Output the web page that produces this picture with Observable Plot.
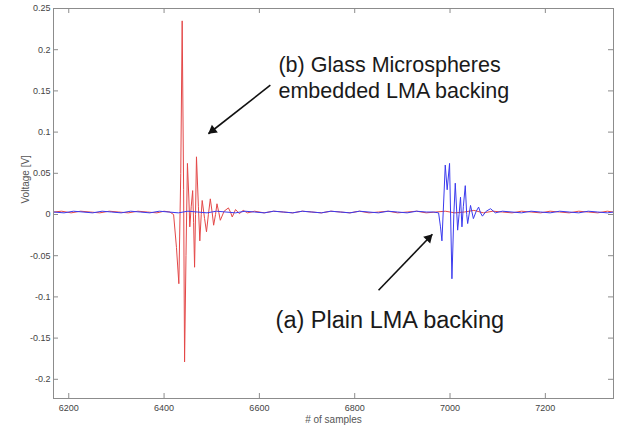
<!DOCTYPE html>
<html><head><meta charset="utf-8">
<script src="https://cdn.jsdelivr.net/npm/d3@7"></script>
<script src="https://cdn.jsdelivr.net/npm/@observablehq/plot@0.6"></script>
<style>body{margin:0;background:#fff;}</style>
</head><body><div id="chart"></div>
<script>
// ---- data ----
const xTicks = [6200, 6400, 6600, 6800, 7000, 7200];
const yTicks = [0.25, 0.2, 0.15, 0.1, 0.05, 0, -0.05, -0.1, -0.15, -0.2];

// (b) Glass microspheres embedded LMA backing (red)
const redSamples = [6168, 6185, 6205, 6225, 6245, 6265, 6285, 6305, 6325, 6345, 6365, 6385, 6400, 6412, 6420, 6426, 6431, 6435, 6438, 6441, 6443, 6446, 6449, 6452, 6454, 6457, 6460, 6462, 6464, 6466, 6468, 6472, 6475, 6478, 6480, 6485, 6489, 6493, 6497, 6501, 6504, 6508, 6511, 6515, 6518, 6526, 6535, 6540, 6543, 6550, 6558, 6566, 6575, 6590, 6610, 6630, 6650, 6670, 6690, 6710, 6730, 6750, 6770, 6790, 6810, 6830, 6850, 6870, 6890, 6910, 6930, 6950, 6970, 6990, 7010, 7030, 7050, 7070, 7090, 7110, 7130, 7150, 7170, 7190, 7210, 7230, 7250, 7270, 7290, 7310, 7330, 7343];
const redVolts = [0.003, 0.004, 0.002, 0.004, 0.003, 0.002, 0.004, 0.003, 0.002, 0.004, 0.003, 0.002, 0.004, 0.003, 0.000, -0.040, -0.084, 0.050, 0.235, 0.030, -0.179, -0.050, 0.062, 0.020, -0.015, 0.010, 0.029, -0.010, -0.064, 0.000, 0.070, 0.010, -0.032, 0.000, 0.017, -0.005, -0.021, 0.000, 0.019, 0.002, -0.013, 0.000, 0.013, 0.002, -0.007, 0.004, 0.008, 0.002, -0.003, 0.006, 0.001, 0.005, 0.002, 0.004, 0.002, 0.004, 0.003, 0.002, 0.004, 0.003, 0.002, 0.004, 0.003, 0.002, 0.004, 0.002, 0.003, 0.004, 0.002, 0.003, 0.004, 0.002, 0.003, 0.004, 0.002, 0.003, 0.005, 0.002, 0.004, 0.003, 0.002, 0.004, 0.003, 0.002, 0.004, 0.003, 0.002, 0.004, 0.003, 0.002, 0.004, 0.003];

// (a) Plain LMA backing (blue)
const blueSamples = [6168, 6190, 6210, 6230, 6250, 6270, 6290, 6310, 6330, 6350, 6370, 6390, 6410, 6430, 6450, 6470, 6490, 6510, 6530, 6550, 6570, 6590, 6610, 6630, 6650, 6670, 6690, 6710, 6730, 6750, 6770, 6790, 6810, 6830, 6850, 6870, 6890, 6910, 6930, 6950, 6965, 6976, 6980, 6983, 6987, 6990, 6994, 6999, 7004, 7008, 7011, 7016, 7019, 7022, 7025, 7028, 7032, 7035, 7037, 7043, 7049, 7055, 7060, 7064, 7068, 7076, 7085, 7095, 7110, 7130, 7150, 7170, 7190, 7210, 7230, 7250, 7270, 7290, 7310, 7330, 7343];
const blueVolts = [0.003, 0.002, 0.004, 0.003, 0.002, 0.004, 0.003, 0.002, 0.004, 0.003, 0.002, 0.004, 0.003, 0.002, 0.004, 0.003, 0.002, 0.004, 0.003, 0.002, 0.004, 0.003, 0.002, 0.004, 0.003, 0.002, 0.004, 0.003, 0.002, 0.004, 0.003, 0.002, 0.004, 0.003, 0.002, 0.004, 0.003, 0.002, 0.004, 0.003, 0.003, 0.002, -0.015, -0.032, 0.020, 0.060, 0.030, 0.062, -0.078, 0.000, 0.038, -0.019, 0.000, 0.021, -0.015, 0.010, 0.035, 0.000, -0.011, 0.011, -0.005, 0.004, 0.009, 0.002, -0.002, 0.004, 0.007, 0.002, 0.004, 0.003, 0.002, 0.004, 0.003, 0.002, 0.004, 0.003, 0.002, 0.004, 0.003, 0.002, 0.003];

const annLabels = ["(b) Glass Microspheres\nembedded LMA backing", "(a) Plain LMA backing"];
const annX = [6640, 6634];
const annY = [0.195, -0.117];

const arrowFromX = [6623, 6850];
const arrowFromY = [0.157, -0.092];
const arrowToX = [6493, 6963];
const arrowToY = [0.098, -0.024];

// ---- build ----
const xDomain = [6168, 7343], yDomain = [-0.2233, 0.25];
const W = 618, H = 429, mL = 53, mR = 5, mT = 8, mB = 31;
const plotH = H - mT - mB, plotW = W - mL - mR, tk = 5;
const kx = plotW / (xDomain[1] - xDomain[0]);
const ky = plotH / (yDomain[1] - yDomain[0]);
const frameColor = "#8c8c8c";

const red = redSamples.map((s, i) => ({s, v: redVolts[i]}));
const blue = blueSamples.map((s, i) => ({s, v: blueVolts[i]}));
const ann = annLabels.map((t, i) => ({t, x: annX[i], y: annY[i]}));
const arrows = arrowFromX.map((x1, i) => {
  const x2 = arrowToX[i], y1 = arrowFromY[i], y2 = arrowToY[i];
  const dxs = (x2 - x1) * kx, dys = -(y2 - y1) * ky;
  const len = Math.hypot(dxs, dys);
  const back = 5.4 / len;
  return {
    x1, y1, x2, y2,
    hx: x2 - (x2 - x1) * back, hy: y2 - (y2 - y1) * back,
    angle: Math.atan2(dxs, -dys) * 180 / Math.PI
  };
});

const chart = Plot.plot({
  width: W, height: H,
  marginLeft: mL, marginRight: mR, marginTop: mT, marginBottom: mB,
  style: {fontFamily: "'Liberation Sans', Arial, sans-serif", background: "#fff", overflow: "visible"},
  x: {domain: xDomain},
  y: {domain: yDomain},
  marks: [
    Plot.line(red, {x: "s", y: "v", stroke: "#e44848", strokeWidth: 1}),
    Plot.line(blue, {x: "s", y: "v", stroke: "#3a3aee", strokeWidth: 1}),
    Plot.frame({stroke: frameColor}),
    Plot.tickX(xTicks, {x: d => d, stroke: frameColor, insetTop: plotH - tk}),
    Plot.tickX(xTicks, {x: d => d, stroke: frameColor, insetBottom: plotH - tk}),
    Plot.tickY(yTicks, {y: d => d, stroke: frameColor, insetRight: plotW - tk}),
    Plot.tickY(yTicks, {y: d => d, stroke: frameColor, insetLeft: plotW - tk}),
    Plot.axisX({ticks: xTicks, tickSize: 0, tickPadding: 6, tickFormat: d => String(d), fontSize: 9, color: "#444", label: null}),
    Plot.axisY({ticks: yTicks, tickSize: 0, tickPadding: 3, tickFormat: d => String(d), fontSize: 9, color: "#444", label: null}),
    Plot.text(["Voltage [V]"], {text: d => d, frameAnchor: "left", dx: -28, rotate: -90, fontSize: 10, fill: "#555"}),
    Plot.text(["# of samples"], {text: d => d, frameAnchor: "bottom", dy: 24, fontSize: 10, fill: "#555"}),
    Plot.link(arrows, {x1: "x1", y1: "y1", x2: "x2", y2: "y2", stroke: "#111", strokeWidth: 1.6}),
    Plot.dot(arrows, {x: "hx", y: "hy", symbol: "triangle", r: 3.6, fill: "#111", stroke: "none", rotate: "angle"}),
    Plot.text(ann.slice(0, 1), {x: "x", y: "y", text: "t", textAnchor: "start", lineAnchor: "top", fontSize: 21.5, lineHeight: 1.2, fill: "#1a1a1a"}),
    Plot.text(ann.slice(1), {x: "x", y: "y", text: "t", textAnchor: "start", lineAnchor: "top", fontSize: 23.5, fill: "#1a1a1a"})
  ]
});
document.getElementById("chart").appendChild(chart);
</script>
</body></html>
